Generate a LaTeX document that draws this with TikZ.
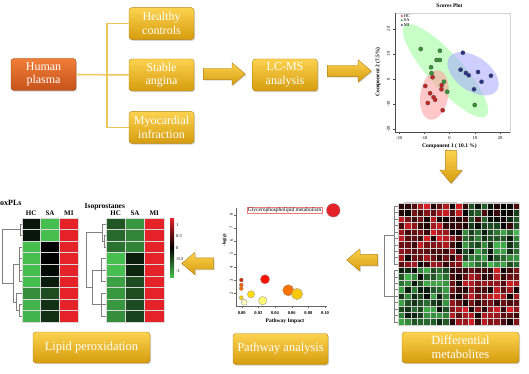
\documentclass[tikz,border=0pt]{standalone}
\usepackage{fontspec}
\setmainfont{Liberation Serif}
\usetikzlibrary{positioning,calc,shapes.arrows,shadows}
\definecolor{goldtop}{RGB}{252,210,78}
\definecolor{goldbot}{RGB}{214,156,14}
\definecolor{goldline}{RGB}{180,132,22}
\definecolor{plasmatop}{RGB}{240,126,56}
\definecolor{plasmabot}{RGB}{198,82,26}
\definecolor{plasmaline}{RGB}{160,66,24}
\definecolor{treeline}{RGB}{236,198,88}
\definecolor{hmred}{RGB}{228,34,40}
\definecolor{hmgreen}{RGB}{70,190,80}
\definecolor{hcred}{RGB}{204,34,34}
\definecolor{sagreen}{RGB}{56,150,56}
\definecolor{miblue}{RGB}{40,52,140}
\tikzstyle{groupbox}=[draw=goldline,rounded corners=3pt,top color=goldtop,bottom color=goldbot,text=white,align=center,minimum width=65pt,minimum height=32pt,inner sep=1pt,font=\fontsize{12}{13.5}\selectfont,drop shadow={opacity=.35,shadow xshift=1pt,shadow yshift=-1.2pt}]
\tikzstyle{resultbox}=[groupbox,minimum width=117pt,minimum height=31pt,font=\fontsize{12.5}{14}\selectfont]
\tikzstyle{blockarr}=[single arrow,draw=goldline,top color=goldtop,bottom color=goldbot,inner sep=5.5pt,single arrow head extend=5.5pt,single arrow tip angle=80,drop shadow={opacity=.3,shadow xshift=1pt,shadow yshift=-1pt}]
\tikzstyle{treeln}=[treeline,line width=1.5pt]
\tikzstyle{dendro}=[gray,line width=.5pt]
\tikzstyle{ticklbl}=[inner sep=0pt,font=\fontsize{4.5}{4.5}\selectfont]
\tikzstyle{hdr}=[inner sep=0pt,font=\bfseries\fontsize{7}{7}\selectfont]
\tikzstyle{scoredot}=[draw=black!70,line width=.3pt]
\tikzstyle{bubble}=[draw=black!45,line width=.3pt]

\begin{document}
\begin{tikzpicture}[x=1pt,y=-1pt]
\useasboundingbox (0,0) rectangle (529,374);

% samples
\node (plasma) at (43.5,74.5) [groupbox,top color=plasmatop,bottom color=plasmabot,draw=plasmaline] {Human\\plasma};
\node (stable) at (161.5,75) [groupbox] {Stable\\angina};
\node (healthy) [groupbox,above=19pt of stable] {Healthy\\controls};
\node (myo) [groupbox,below=20pt of stable] {Myocardial\\infraction};
\node (lcms) at (285,75) [groupbox] {LC-MS\\analysis};

\coordinate (fork) at (107,75);
\draw[treeln] (plasma.east) -- (stable.west);
\draw[treeln] (healthy.west) -| (fork) |- (myo.west);

% results
\node (diff) at (460.5,347.5) [resultbox] {Differential\\metabolites};
\node (path) at (280.5,349) [resultbox,minimum width=95pt] {Pathway analysis};
\node (lipid) at (91.5,347.5) [resultbox] {Lipid peroxidation};

% block arrows
\node (arrA) at (221,74) [blockarr,minimum height=42pt] {};
\node (arrB) at (346,71) [blockarr,minimum height=44pt] {};
\node (arrC) at (451,163.5) [blockarr,minimum height=33pt,shape border rotate=270] {};
\node (arrD) at (365.5,260) [blockarr,minimum height=31pt,shape border rotate=180] {};
\node (arrE) at (201,263.5) [blockarr,minimum height=32pt,shape border rotate=180] {};

% scores plot
\begin{scope}[shift={(449.5,79)},x=2.525pt,y=2.5pt]
  \draw[gray!35,line width=.3pt] (-21.6,-21.1) rectangle (24,26.4);
  \fill[green!40!white,opacity=.55,rotate around={-48:(-1.6,3.3)}] (-1.6,3.3) ellipse [x radius=61pt,y radius=17pt];
  \fill[red!40!white,opacity=.55,rotate around={80:(-6,-6.4)}] (-6,-6.4) ellipse [x radius=25pt,y radius=14pt];
  \fill[blue!35!white,opacity=.55,rotate around={-35:(9.3,2.1)}] (9.3,2.1) ellipse [x radius=29pt,y radius=17pt];
  \draw[black!70,line width=.4pt] (-21.6,26.4) -- (-21.6,-21.1) -- (24,-21.1);
  \foreach \tk [count=\k] in {-20,-10,0,10,20} {
    \draw[black!70,line width=.3pt] (\tk,-21.1) -- (\tk,-21.9);
    \node[ticklbl] (sx\k) at (\tk,-23.6) {\tk};
    \draw[black!70,line width=.3pt] (-21.6,\tk) -- (-22.4,\tk);
    \node[ticklbl,rotate=90] (sy\k) at (-24.2,\tk) {\tk};
  }
  \foreach \px/\py in {-6.7/0.7,-9.6/-2.8,-3.1/-2.5,-3.2/-4.1,-7.7/-5.7,-6.3/-7.3,-5.7/-8.3,-8.6/-9.6,-2.7/-12.5}
    \fill[scoredot,fill=hcred] (\px,\py) circle (2.1pt);
  \foreach \px/\py in {-11.4/12,-3.8/11.3,-5.1/7.6,-3.8/7.6,-7.3/4.7,-7.1/2.3,-2.2/-1.1,-0.9/-5.1,10/-10.4}
    \fill[scoredot,fill=sagreen] (\px,\py) circle (2.1pt);
  \foreach \px/\py in {5.3/10.5,4.4/3.7,6.5/2.4,7.6/1.5,11.3/2.8,16.4/1.3,12.7/-1.1,9.7/-4.1}
    \fill[scoredot,fill=miblue] (\px,\py) circle (2.1pt);
  % legend
  \fill[hcred] (-18.9,25.2) circle (1pt);
  \fill[sagreen] (-18.9,23.5) circle (1pt);
  \fill[miblue] (-18.9,21.6) circle (1pt);
  \node[ticklbl,anchor=west] (lgHC) at (-18.2,25.2) {HC};
  \node[ticklbl,anchor=west] (lgSA) at (-18.2,23.5) {SA};
  \node[ticklbl,anchor=west] (lgMI) at (-18.2,21.6) {MI};
  \node[inner sep=0pt,font=\bfseries\fontsize{5.5}{5.5}\selectfont] (stitle) at (0,29.2) {Scores Plot};
  \node[inner sep=0pt,font=\bfseries\fontsize{5.5}{5.5}\selectfont] (sxlab) at (0,-26.8) {Component 1 ( 10.1 \%)};
  \node[inner sep=0pt,font=\bfseries\fontsize{5.5}{5.5}\selectfont,rotate=90] (sylab) at (-28.3,2.8) {Component 2 (7.5\%)};
\end{scope}

% differential metabolites heatmap
\pgfmathsetseed{2718}
\foreach \i in {0,...,18}{
  \foreach \j in {0,...,18}{
    \pgfmathsetmacro\hb{(\i<10)*((\j<10)*0.5+(\j>9)*((\i>3)*(-0.55)+(\i<4)*(-0.1)))+(\i>9)*((\j<8)*(-0.5)+(\j>7)*0.5)}
    \pgfmathsetmacro\hv{max(-1,min(1,\hb+0.45*rand))}
    \pgfmathtruncatemacro\hp{100*abs(\hv)}
    \ifdim\hv pt>0pt \def\hmc{hmred}\else\def\hmc{hmgreen}\fi
    \filldraw[fill=\hmc!\hp!black,draw=gray!35,line width=.25pt] ({398+6.37*\j},{203+6.42*\i}) rectangle ++(6.37,6.42);
  }
}
\draw[gray!50,line width=.6pt] (404,202) -- (457,202);
\draw[gray!50,line width=.6pt] (463,202) -- (518,202);
\draw[dendro] (394,206.2) -- (394,264.4);
\draw[dendro] (394,270.6) -- (394,321.8);
\draw[dendro] (394,235) -| (384,296) -- (394,296);
\foreach \i in {0,...,18}
  \draw[dendro,line width=.35pt] (394,{206.2+6.42*\i}) -- (398,{206.2+6.42*\i});

% pathway plot
\draw[black!60,line width=.4pt] (235.7,208) -- (235.7,306.5) -- (327,306.5);
\foreach \tk [count=\k] in {8,7,6,5,4,3,2} {
  \draw[black!60,line width=.3pt] (235.7,{214.7+13.05*(\k-1)}) -- (234.2,{214.7+13.05*(\k-1)});
  \node[ticklbl,rotate=90] (py\k) at (231.5,{214.7+13.05*(\k-1)}) {\tk};
}
\foreach \tk [count=\k] in {0.00,0.02,0.04,0.06,0.08,0.10} {
  \draw[black!60,line width=.3pt] ({241.7+16.67*(\k-1)},306.5) -- ({241.7+16.67*(\k-1)},308);
  \node[ticklbl,font=\bfseries\fontsize{4.5}{4.5}\selectfont] (px\k) at ({241.7+16.67*(\k-1)},313) {\tk};
}
\node[inner sep=0pt,font=\bfseries\fontsize{5.5}{5.5}\selectfont] (pxlab) at (285,321) {Pathway Impact};
\node[inner sep=0pt,font=\bfseries\fontsize{4.5}{4.5}\selectfont,rotate=90] (pylab) at (224.5,240) {-log(p)};
\node[draw=hmred!60,fill=white,inner sep=.8pt,font=\fontsize{5.5}{5.5}\selectfont] (glyc) at (284.6,210.2) {Glycerophospholipid metabolism};
\fill[bubble,fill=hmred] (333.3,210.3) circle (6.8pt);
\fill[bubble,fill=red!85!orange] (265,279.3) circle (4.6pt);
\fill[bubble,fill=red!60!orange!80!black] (241.3,280) circle (2pt);
\fill[bubble,fill=orange!70!red] (241.3,285) circle (2pt);
\fill[bubble,fill=orange!85!red] (241.3,288.5) circle (2pt);
\fill[bubble,fill=yellow!70!orange] (241.3,297.7) circle (2pt);
\fill[bubble,fill=yellow!25!white] (244.3,302.3) circle (3pt);
\fill[bubble,fill=yellow!80!orange] (251,294.3) circle (3.6pt);
\fill[bubble,fill=yellow!55!white] (262.7,300.7) circle (4.2pt);
\fill[bubble,fill=orange!90!red] (288.3,290.3) circle (5.6pt);
\fill[bubble,fill=yellow!60!orange] (297,294) circle (5.6pt);

% lipid heatmaps
\node[hdr,anchor=west,font=\bfseries\fontsize{8}{8}\selectfont] (oxtitle) at (0,203) {oxPLs};
\node[hdr,anchor=west,font=\bfseries\fontsize{7.5}{7.5}\selectfont] (isotitle) at (84.5,207) {Isoprostanes};
\node[hdr] (oxHC) at (31.1,213.5) {HC};
\node[hdr] (oxSA) at (50,213.5) {SA};
\node[hdr] (oxMI) at (68.9,213.5) {MI};
\node[hdr] (isoHC) at (115.7,213.5) {HC};
\node[hdr] (isoSA) at (135,213.5) {SA};
\node[hdr] (isoMI) at (154.3,213.5) {MI};
\foreach \ca/\cb/\cc [count=\r] in {black!88!hmgreen/hmgreen/hmred, black!88!hmgreen/hmgreen/hmred, hmgreen/black/hmred, hmgreen/black/hmred, hmgreen/black!95!hmgreen/hmred, hmgreen/black!85!hmgreen/hmred, hmgreen!75!black/hmgreen!40!black/hmred, hmgreen!95!black/hmgreen!25!black/hmred, hmgreen!95!black/hmgreen!25!black/hmred}{
  \filldraw[fill=\ca,draw=gray!30,line width=.4pt] (21.7,{218+11.56*(\r-1)}) rectangle ++(18.9,11.56);
  \filldraw[fill=\cb,draw=gray!30,line width=.4pt] (40.6,{218+11.56*(\r-1)}) rectangle ++(18.9,11.56);
  \filldraw[fill=\cc,draw=gray!30,line width=.4pt] (59.5,{218+11.56*(\r-1)}) rectangle ++(18.9,11.56);
}
\foreach \ca/\cb/\cc [count=\r] in {hmgreen!45!black/hmgreen!80!black/hmred, hmgreen!55!black/hmgreen!70!black/hmred, hmgreen!60!black/hmgreen!70!black/hmred, hmgreen/hmgreen!15!black/hmred, hmgreen/hmgreen!20!black/hmred, hmgreen!85!black/hmgreen!40!black/hmred, hmgreen!80!black/hmgreen!40!black/hmred, hmgreen!80!black/hmgreen!40!black/hmred, hmgreen!75!black/hmgreen!35!black/hmred}{
  \filldraw[fill=\ca,draw=gray!30,line width=.4pt] (106,{218+11.56*(\r-1)}) rectangle ++(19.3,11.56);
  \filldraw[fill=\cb,draw=gray!30,line width=.4pt] (125.3,{218+11.56*(\r-1)}) rectangle ++(19.3,11.56);
  \filldraw[fill=\cc,draw=gray!30,line width=.4pt] (144.6,{218+11.56*(\r-1)}) rectangle ++(19.3,11.56);
}
% dendrograms
\draw[dendro] (21.7,223.8) -| (20,235.3) -- (21.7,235.3);
\draw[dendro] (21.7,246.9) -| (19,281.6) -- (21.7,281.6);
\draw[dendro] (19,258.5) -- (21.7,258.5) (19,270) -- (21.7,270);
\draw[dendro] (21.7,304.7) -| (19,316.2) -- (21.7,316.2);
\draw[dendro] (21.7,293.1) -| (16,310.5) -- (19,310.5);
\draw[dendro] (19,264.2) -| (13,301.8) -- (16,301.8);
\draw[dendro] (20,229.5) -| (2,283) -- (13,283);
\draw[dendro] (106,235.3) -| (104,246.9) -- (106,246.9);
\draw[dendro] (106,223.8) -| (102,241.1) -- (104,241.1);
\draw[dendro] (106,258.5) -| (101,281.6) -- (106,281.6);
\draw[dendro] (101,270) -- (106,270);
\draw[dendro] (106,293.1) -| (101,316.2) -- (106,316.2);
\draw[dendro] (101,304.7) -- (106,304.7);
\draw[dendro] (101,270) -| (92,304.7) -- (101,304.7);
\draw[dendro] (102,232.5) -| (86,287.3) -- (92,287.3);
% colour key
\shade[top color=hmred,bottom color=black] (170,218) rectangle (174,247.5);
\shade[top color=black,bottom color=hmgreen] (170,247.5) rectangle (174,277);
\foreach \tk/\ty [count=\k] in {1/225,0.5/236.5,0/248,-0.5/259.5,-1/271}
  \node[ticklbl,anchor=west] (key\k) at (176,\ty) {\tk};
\end{tikzpicture}
\end{document}
